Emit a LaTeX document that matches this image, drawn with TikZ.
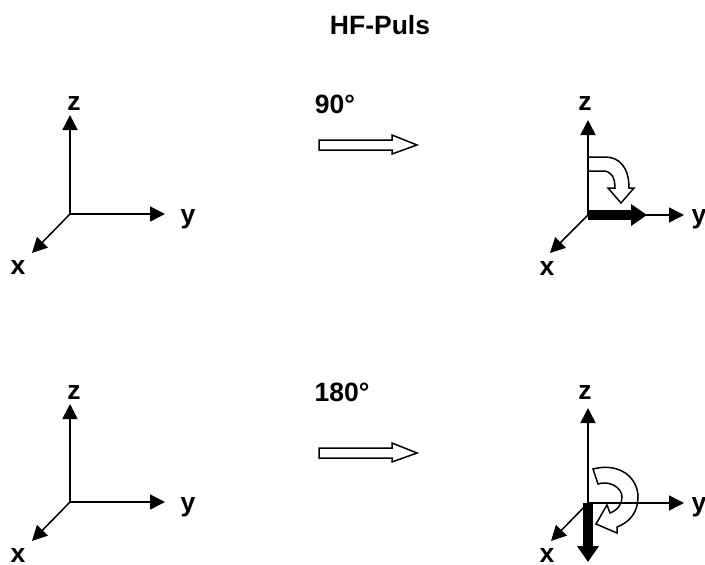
\documentclass[tikz,border=0pt]{standalone}
\usepackage{fontspec}
\setmainfont{Liberation Sans}
\usetikzlibrary{arrows.meta}

\begin{document}
\begin{tikzpicture}[x=1pt,y=-1pt,
           axis/.style={-{Triangle[length=15pt,width=15pt]},draw=black,line width=1.5pt},
           label/.style={font=\fontsize{26.5}{30}\selectfont\bfseries,inner sep=0pt},
           pulse/.style={-{Triangle[length=16pt,width=21pt]},draw=black,line width=10pt},
           hollow/.style={draw=black,line width=1.5pt,line join=miter},
        ]
        \useasboundingbox (0,0) rectangle (705,565);

        \node at (380,25) (title) [label] {HF-Puls};
        \node at (335,104) (angleA) [label] {90°};
        \node at (342,392) (angleB) [label] {180°};

        % oben links
        \coordinate (originA) at (70,214);
        \coordinate (zA) at (70,115);
        \coordinate (yA) at (165,214);
        \coordinate (xA) at (32,253);
        \node at (74,103) (zlabelA) [label] {z};
        \node at (188,219) (ylabelA) [label] {y};
        \node at (18,267) (xlabelA) [label] {x};
        \draw[axis] (originA) -- (zA);
        \draw[axis] (originA) -- (yA);
        \draw[axis] (originA) -- (xA);

        % oben rechts
        \coordinate (originB) at (588,215);
        \coordinate (zB) at (588,120);
        \coordinate (yB) at (684,215);
        \coordinate (xB) at (550,253);
        \coordinate (pulseB) at (647,215);
        \node at (585,103) (zlabelB) [label] {z};
        \node at (699,219) (ylabelB) [label] {y};
        \node at (547,268) (xlabelB) [label] {x};
        \draw[axis] (originB) -- (zB);
        \draw[axis] (originB) -- (yB);
        \draw[axis] (originB) -- (xB);
        \draw[pulse] (originB) -- (pulseB);
        \draw[hollow] (588,157) -- (605,157) .. controls (620,157) and (629,168) .. (629,188)
             -- (634,188) -- (621,203) -- (608,188) -- (615,188)
             .. controls (615,177) and (611,171) .. (603,171) -- (588,171);

        % unten links
        \coordinate (originC) at (70,502);
        \coordinate (zC) at (70,404);
        \coordinate (yC) at (165,502);
        \coordinate (xC) at (32,541);
        \node at (74,392) (zlabelC) [label] {z};
        \node at (188,507) (ylabelC) [label] {y};
        \node at (18,555) (xlabelC) [label] {x};
        \draw[axis] (originC) -- (zC);
        \draw[axis] (originC) -- (yC);
        \draw[axis] (originC) -- (xC);

        % unten rechts
        \coordinate (originD) at (588,503);
        \coordinate (zD) at (588,408);
        \coordinate (yD) at (684,503);
        \coordinate (xD) at (551,541);
        \coordinate (pulseD) at (588,562);
        \node at (585,392) (zlabelD) [label] {z};
        \node at (699,507) (ylabelD) [label] {y};
        \node at (547,555) (xlabelD) [label] {x};
        \draw[axis] (originD) -- (zD);
        \draw[axis] (originD) -- (yD);
        \draw[axis] (originD) -- (xD);
        \draw[pulse] (originD) -- (pulseD);
        \draw[hollow] (593,469) .. controls (620,462) and (638,478) .. (638,497)
             .. controls (638,512) and (630,522) .. (617,527)
             -- (617,533) -- (596,524) -- (607,505) -- (610,513)
             .. controls (618,510) and (622,504) .. (622,497)
             .. controls (622,488) and (610,480) .. (598,484) -- cycle;

        % Pfeile in der Mitte
        \draw[hollow] (319,140) -- (392,140) -- (392,135) -- (417,145) -- (392,154) -- (392,150) -- (319,150) -- cycle;
        \draw[hollow] (319,448) -- (392,448) -- (392,443) -- (417,453) -- (392,462) -- (392,458) -- (319,458) -- cycle;
\end{tikzpicture}
\end{document}
